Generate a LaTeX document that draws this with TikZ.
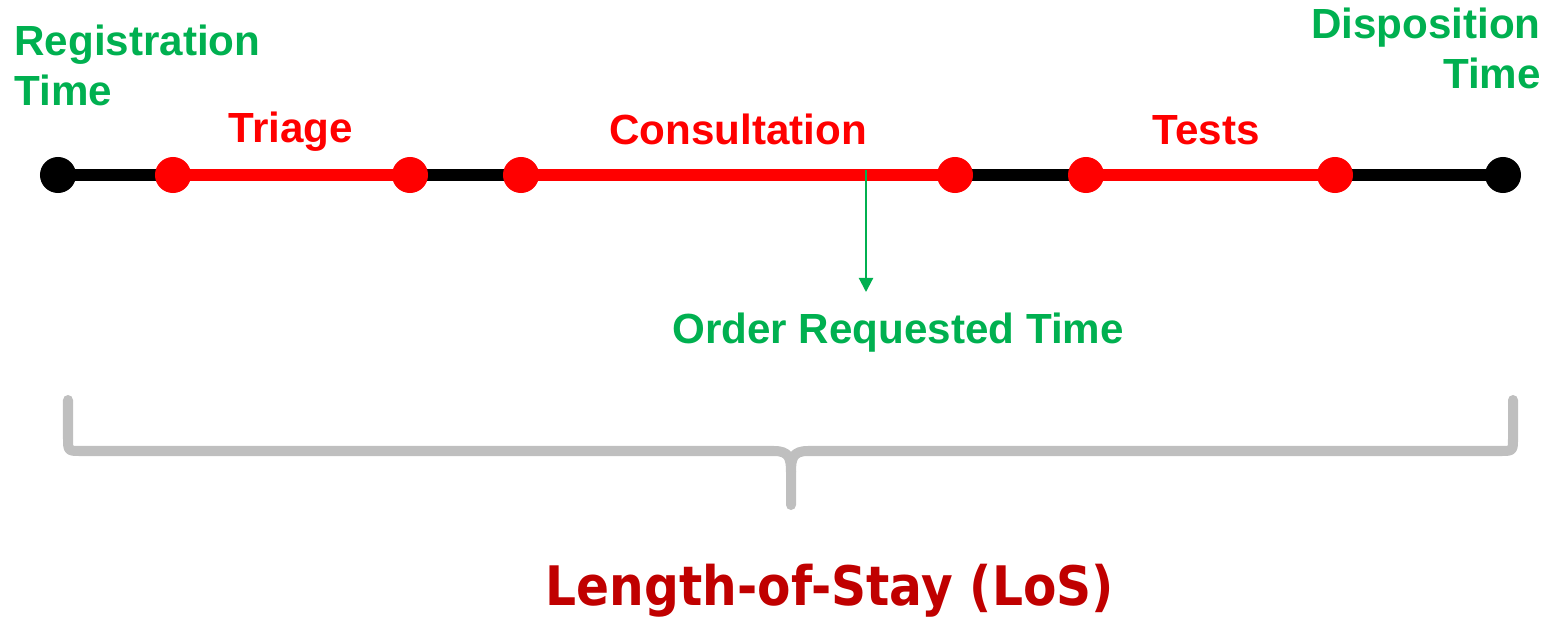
\documentclass[tikz,border=0pt]{standalone}
\usepackage{fontspec}
\setmainfont{Liberation Sans}
\newfontfamily\losfont{DejaVu Sans}
\usetikzlibrary{arrows.meta}
\definecolor{TimeGreen}{HTML}{00B050}
\definecolor{StepRed}{HTML}{FF0000}
\definecolor{LosRed}{HTML}{C00000}
\definecolor{BraceGray}{HTML}{BFBFBF}

\begin{document}
\begin{tikzpicture}[x=0.02cm,y=-0.02cm,
  every node/.style={font=\fontsize{24}{28.4}\selectfont\bfseries, inner sep=0pt},
  endpt/.style={circle, fill=black, minimum size=20.5pt},
  steppt/.style={circle, fill=StepRed, minimum size=20.5pt},
  idle/.style={line width=6.8pt, draw=black},
  busy/.style={line width=6.8pt, draw=StepRed},
  steplab/.style={text=StepRed, anchor=base},
  timelab/.style={text=TimeGreen},
  ordarr/.style={-{Triangle[width=8pt,length=8pt]}, line width=1.2pt, draw=TimeGreen},
  brace/.style={line width=5.7pt, draw=BraceGray, line cap=round, line join=round},
]
\useasboundingbox (0,0) rectangle (1549,619);
% time points along the stay
\coordinate (p0) at (58,175);
\coordinate (p1) at (173,175);
\coordinate (p2) at (410,175);
\coordinate (p3) at (521,175);
\coordinate (p4) at (955,175);
\coordinate (p5) at (1086,175);
\coordinate (p6) at (1335,175);
\coordinate (p7) at (1503,175);
\draw[idle] (p0) -- (p1);
\draw[busy] (p1) -- (p2);
\draw[idle] (p2) -- (p3);
\draw[busy] (p3) -- (p4);
\draw[idle] (p4) -- (p5);
\draw[busy] (p5) -- (p6);
\draw[idle] (p6) -- (p7);
\node[endpt]  (reg) at (p0) {};
\node[steppt] (tr1) at (p1) {};
\node[steppt] (tr2) at (p2) {};
\node[steppt] (co1) at (p3) {};
\node[steppt] (co2) at (p4) {};
\node[steppt] (te1) at (p5) {};
\node[steppt] (te2) at (p6) {};
\node[endpt]  (dis) at (p7) {};
\node[steplab] (triage) at (291,142) {Triage};
\node[steplab] (consult) at (738,144) {Consultation};
\node[steplab] (tests) at (1206,144) {Tests};
\node[timelab, align=left, anchor=base west] (regtime) at (14,105) {Registration\\Time};
\node[timelab, align=right, anchor=base east] (distime) at (1541,88) {Disposition\\Time};
% order request
\coordinate (ordsrc) at (866,170);
\coordinate (ordtip) at (866,292);
\draw[ordarr] (ordsrc) -- (ordtip);
\node[timelab, anchor=base] (ordtime) at (898,343) {Order Requested Time};
% brace over the whole stay
\draw[brace] (68,400) -- (68,438) .. controls (68,451) .. (81,451) -- (774,451)
  .. controls (789,451) and (791,458) .. (791,472) -- (791,505);
\draw[brace] (1513,400) -- (1513,438) .. controls (1513,451) .. (1500,451) -- (808,451)
  .. controls (793,451) and (791,458) .. (791,472);
\node[anchor=base, text=LosRed, font=\losfont\fontsize{31}{36}\selectfont\bfseries] (los) at (830,605) {\scalebox{0.894}[1]{Length-of-Stay (LoS)}};
\end{tikzpicture}
\end{document}
